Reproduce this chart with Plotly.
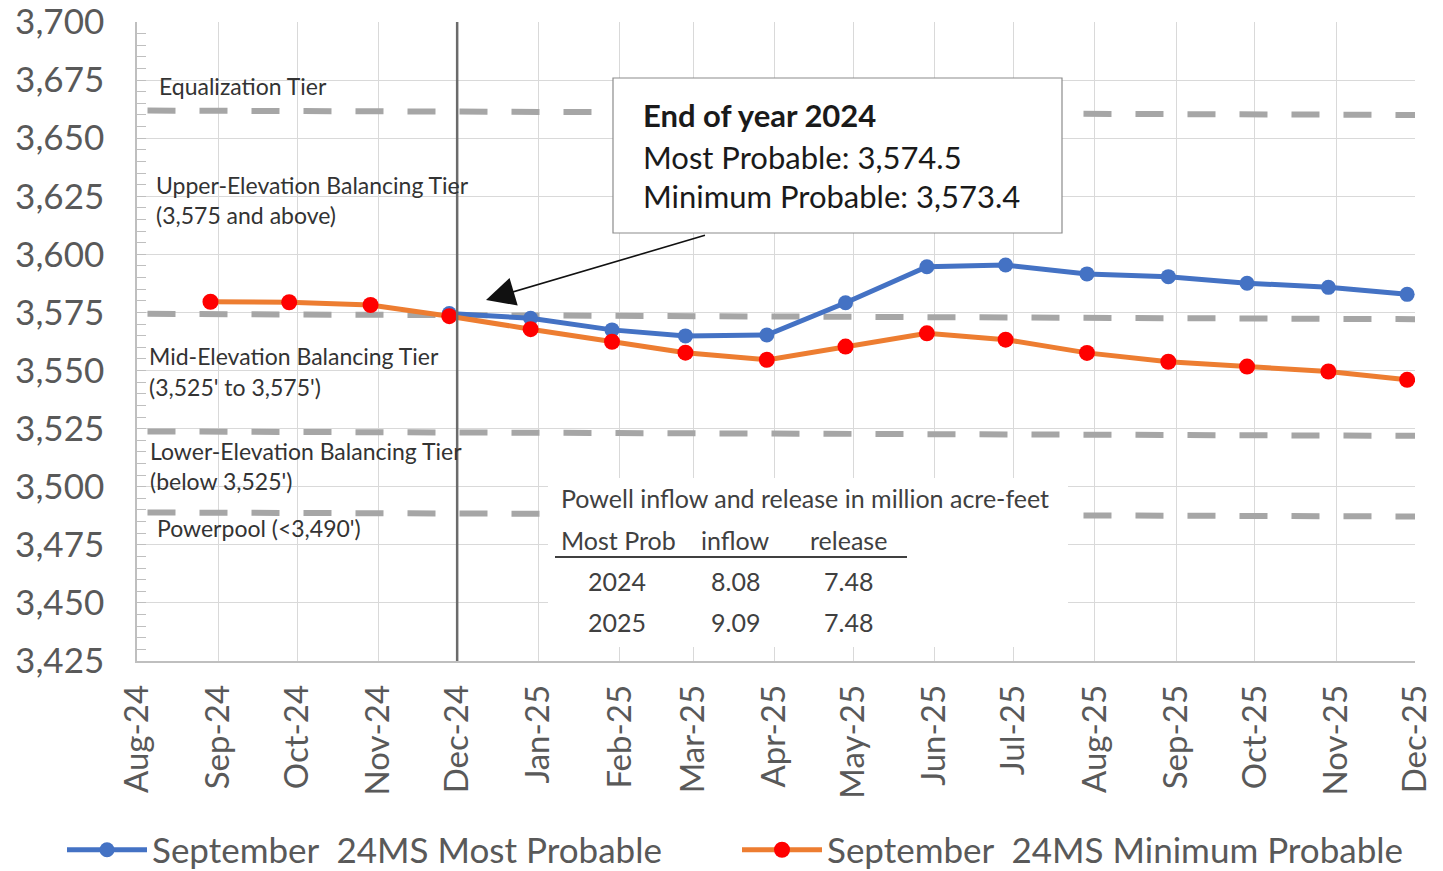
import plotly.graph_objects as go

# ---------------- data ----------------
months_min = ['2024-09-01', '2024-10-01', '2024-11-01', '2024-12-01', '2025-01-01', '2025-02-01',
              '2025-03-01', '2025-04-01', '2025-05-01', '2025-06-01', '2025-07-01', '2025-08-01',
              '2025-09-01', '2025-10-01', '2025-11-01', '2025-12-01']
min_probable = [3579.6, 3579.4, 3578.2, 3573.4, 3567.8, 3562.4, 3557.7, 3554.6, 3560.3, 3566.0,
                3563.3, 3557.6, 3553.8, 3551.7, 3549.6, 3546.0]

months_most = ['2024-12-01', '2025-01-01', '2025-02-01', '2025-03-01', '2025-04-01', '2025-05-01',
               '2025-06-01', '2025-07-01', '2025-08-01', '2025-09-01', '2025-10-01', '2025-11-01',
               '2025-12-01']
most_probable = [3574.5, 3572.5, 3567.5, 3564.9, 3565.3, 3579.2, 3594.7, 3595.4, 3591.6, 3590.4,
                 3587.6, 3585.8, 3582.8]

# tier threshold lines (start / end of the chart)
tier_x = ['2024-08-08', '2025-12-04']
tier_start = [3661.9, 3574.4, 3523.8, 3488.9]
tier_end = [3660.0, 3572.1, 3521.9, 3487.2]

tier_labels = ['Equalization Tier',
               'Upper-Elevation Balancing Tier', '(3,575 and above)',
               'Mid-Elevation Balancing Tier', "(3,525' to 3,575')",
               'Lower-Elevation Balancing Tier', "(below 3,525')",
               "Powerpool (<3,490')"]

table_title = 'Powell inflow and release in million acre-feet'
table_header = ['Most Prob', 'inflow', 'release']
table_years = ['2024', '2025']
table_inflow = ['8.08', '9.09']
table_release = ['7.48', '7.48']

box_title = 'End of year 2024'
box_lines = ['Most Probable: 3,574.5', 'Minimum Probable: 3,573.4']

x_range = ['2024-08-04', '2025-12-04']
divider_date = '2024-12-04'
arrow_head = ('2024-12-15', 3580.4)
arrow_tail = ('2025-03-09', 3608.4)

# ---------------- layout helpers ----------------
W, H = 1443, 871
L, R, T, B = 137, 1415, 22, 661
FONT = 'Lato, "Open Sans", sans-serif'


def px(x):
    return (x - L) / (R - L)


def py(y):
    return (B - y) / (B - T)


fig = go.Figure()

for ys, ye in zip(tier_start, tier_end):
    fig.add_trace(go.Scatter(x=tier_x, y=[ys, ye], mode='lines', showlegend=False,
                             hoverinfo='skip',
                             line=dict(color='#a6a6a6', width=6, dash='28px,24px')))

fig.add_trace(go.Scatter(x=months_most, y=most_probable, mode='lines+markers',
                         name='September\u00a0 24MS Most Probable',
                         line=dict(color='#4472c4', width=5),
                         marker=dict(color='#4472c4', size=15)))
fig.add_trace(go.Scatter(x=months_min, y=min_probable, mode='lines+markers',
                         name='September\u00a0 24MS Minimum Probable',
                         line=dict(color='#ed7d31', width=5),
                         marker=dict(color='#ff0000', size=16)))

shapes = [
    # Dec-24 divider
    dict(type='line', xref='x', yref='paper', x0=divider_date, x1=divider_date, y0=0, y1=1,
         line=dict(color='#6b6b6b', width=2.5), layer='above'),
    # callout box
    dict(type='rect', xref='paper', yref='paper', x0=px(613), x1=px(1062), y0=py(233), y1=py(78),
         fillcolor='white', line=dict(color='#8c8c8c', width=1.2), layer='above'),
    # table background
    dict(type='rect', xref='paper', yref='paper', x0=px(548), x1=px(1068), y0=py(647), y1=py(478),
         fillcolor='white', line=dict(width=0), layer='above'),
    # table header underline
    dict(type='line', xref='paper', yref='paper', x0=px(555), x1=px(907), y0=py(557), y1=py(557),
         line=dict(color='#404040', width=2), layer='above'),
]

ann = []
tier_pos = [(157, 86), (154, 185), (154, 215), (147, 356), (147, 387), (148, 451), (148, 481), (155, 528)]
for txt, (x, y) in zip(tier_labels, tier_pos):
    ann.append(dict(text=txt, xref='paper', yref='paper', x=px(x), y=py(y), xanchor='left',
                    yanchor='middle', showarrow=False, font=dict(family=FONT, size=23, color='#333333')))

# callout text
ann.append(dict(text='<b>' + box_title + '</b>', xref='paper', yref='paper', x=px(641), y=py(115),
                xanchor='left', yanchor='middle', showarrow=False,
                font=dict(family=FONT, size=31, color='#1a1a1a')))
for txt, y in zip(box_lines, [157, 196]):
    ann.append(dict(text=txt, xref='paper', yref='paper', x=px(641), y=py(y), xanchor='left',
                    yanchor='middle', showarrow=False, font=dict(family=FONT, size=31, color='#1a1a1a')))

# arrow
ann.append(dict(text='', x=arrow_head[0], y=arrow_head[1], ax=arrow_tail[0], ay=arrow_tail[1],
                xref='x', yref='y', axref='x', ayref='y', showarrow=True, arrowhead=2,
                arrowsize=3.6, arrowwidth=1.6, arrowcolor='#111111'))

# table text
tfont = dict(family=FONT, size=25, color='#404040')
ann.append(dict(text=table_title, xref='paper', yref='paper', x=px(559), y=py(498), xanchor='left',
                yanchor='middle', showarrow=False, font=tfont))
for txt, x in zip(table_header, [559, 735, 848]):
    ann.append(dict(text=txt, xref='paper', yref='paper', x=px(x), y=py(540),
                    xanchor='left' if x == 559 else 'center', yanchor='middle', showarrow=False,
                    font=tfont))
for i, y in enumerate([581, 622]):
    for col, x in zip([table_years, table_inflow, table_release], [617, 735, 848]):
        ann.append(dict(text=col[i], xref='paper', yref='paper', x=px(x), y=py(y), xanchor='center',
                        yanchor='middle', showarrow=False, font=tfont))

fig.update_layout(
    width=W, height=H,
    margin=dict(l=L, r=W - R, t=T, b=H - B, autoexpand=False),
    paper_bgcolor='white', plot_bgcolor='white',
    font=dict(family=FONT, color='#595959'),
    shapes=shapes, annotations=ann,
    showlegend=True,
    legend=dict(orientation='h', x=px(62), xanchor='left', y=py(850), yanchor='middle',
                font=dict(family=FONT, size=35, color='#595959'), itemwidth=80,
                entrywidth=580, entrywidthmode='pixels',
                bgcolor='rgba(0,0,0,0)'),
)

fig.update_xaxes(type='date', range=x_range, tick0=x_range[0], dtick='M1', tickformat='%b-%y',
                 tickangle=-90, showgrid=True, gridcolor='#d9d9d9', gridwidth=1,
                 showline=True, linecolor='#bfbfbf', linewidth=1.5, ticks='',
                 tickfont=dict(family=FONT, size=33, color='#595959'), ticklabelstandoff=9,
                 ticklabeloverflow='allow', zeroline=False, automargin=False)
fig.update_yaxes(range=[3425, 3700], dtick=25, tickformat=',d', showgrid=True, gridcolor='#d9d9d9',
                 gridwidth=1, showline=True, linecolor='#bfbfbf', linewidth=1.5,
                 ticks='inside', ticklen=9, tickcolor='#bfbfbf',
                 minor=dict(dtick=5, ticks='inside', ticklen=9, tickcolor='#bfbfbf', showgrid=False),
                 tickfont=dict(family=FONT, size=35, color='#595959'), ticklabelstandoff=24,
                 ticklabeloverflow='allow', zeroline=False, automargin=False)

fig.write_html('out.html', config={'displayModeBar': False},
               post_script="document.body.style.margin='0';document.body.style.overflow='hidden';")
